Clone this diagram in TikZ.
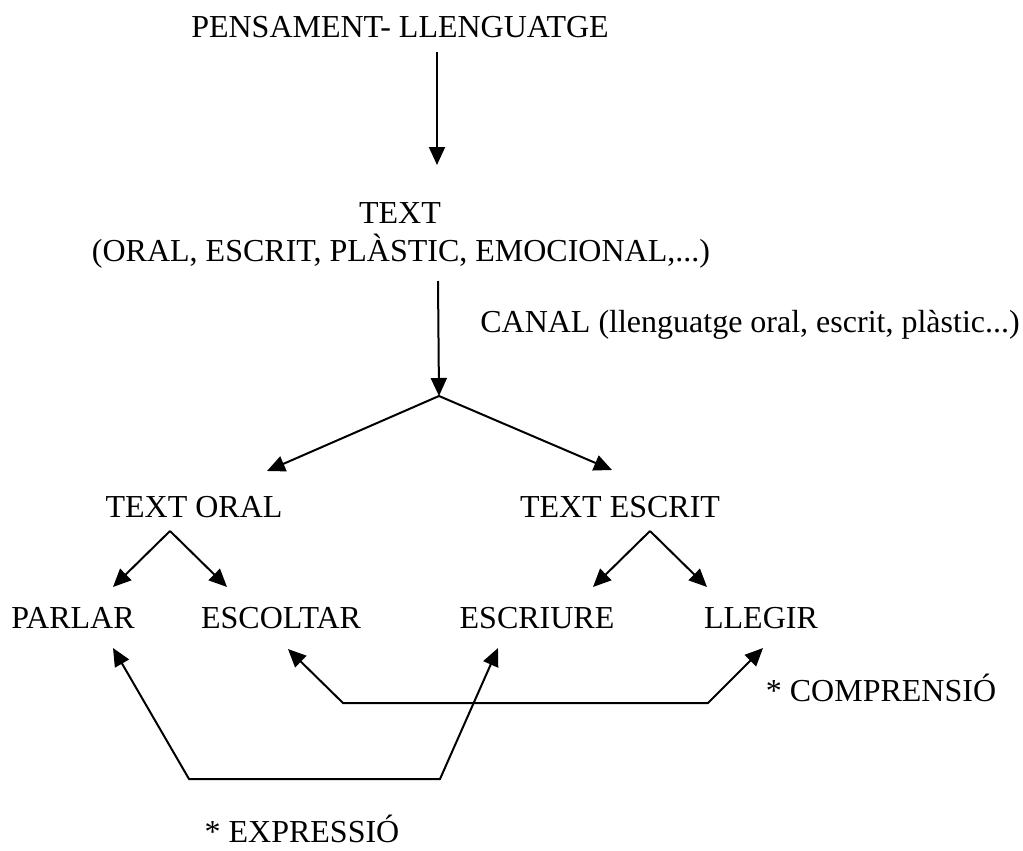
\documentclass[tikz,border=0pt]{standalone}
\usepackage{fontspec}
\setmainfont{Liberation Serif}
\usetikzlibrary{arrows.meta,positioning,calc}

\begin{document}
\begin{tikzpicture}[
    x=0.5pt, y=-0.5pt,
    lbl/.style={inner sep=0pt, text height=10.6pt, text depth=0pt, font=\fontsize{16}{19}\selectfont},
    arrow/.style={-{Triangle[length=9pt,width=8pt]}, line width=1pt},
    dblarrow/.style={{Triangle[length=9pt,width=8pt]}-{Triangle[length=9pt,width=8pt]}, line width=1pt, line join=miter}]
  \useasboundingbox (0,0) rectangle (1023,851);
  \node[lbl] (pens)     at (400,27)  {PENSAMENT- LLENGUATGE};
  \node[lbl] (text)     at (400,213) {TEXT};
  \node[lbl] (tipus)    at (401,251) {(ORAL, ESCRIT, PLÀSTIC, EMOCIONAL,...)};
  \node[lbl] (canal)    at (750,322) {CANAL (llenguatge oral, escrit, plàstic...)};
  \node[lbl] (oral)     at (194,507) {TEXT ORAL};
  \node[lbl] (escrit)   at (620,507) {TEXT ESCRIT};
  \node[lbl] (parlar)   at (73,618)  {PARLAR};
  \node[lbl] (escoltar) at (281,618) {ESCOLTAR};
  \node[lbl] (escriure) at (537,618) {ESCRIURE};
  \node[lbl] (llegir)   at (761,618) {LLEGIR};
  \node[lbl] (comp)     at (881,691) {* COMPRENSIÓ};
  \node[lbl] (expr)     at (302,832) {* EXPRESSIÓ};
  % split points and corners
  \coordinate (split)  at (439,396);
  \coordinate (osplit) at ($(oral.south)+(-24,13)$);
  \coordinate (esplit) at ($(escrit.south)+(30,13)$);
  \coordinate (comp-a) at (343,703);
  \coordinate (comp-b) at (708,703);
  \coordinate (expr-a) at (189,779);
  \coordinate (expr-b) at (440,779);
  \draw[arrow] ($(pens.south)+(37,14)$) -- ($(text.north)+(37,-37)$);
  \draw[arrow] ($(tipus.south)+(37,19)$) -- (split);
  \draw[arrow] (split) -- ($(oral.north)+(73,-25)$);
  \draw[arrow] (split) -- ($(escrit.north)+(-8,-26)$);
  \draw[arrow] (osplit) -- ($(parlar.north)+(40,-20)$);
  \draw[arrow] (osplit) -- ($(escoltar.north)+(-54,-20)$);
  \draw[arrow] (esplit) -- ($(escriure.north)+(56,-20)$);
  \draw[arrow] (esplit) -- ($(llegir.north)+(-54,-20)$);
  \draw[dblarrow] ($(escoltar.south)+(7,20)$) -- (comp-a) -- (comp-b) -- ($(llegir.south)+(2,19)$);
  \draw[dblarrow] ($(parlar.south)+(40,19)$) -- (expr-a) -- (expr-b) -- ($(escriure.south)+(-39,19)$);
\end{tikzpicture}
\end{document}
